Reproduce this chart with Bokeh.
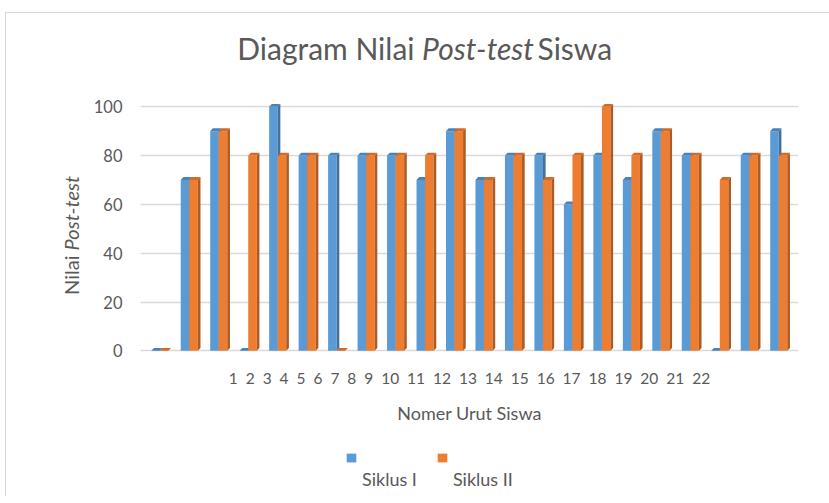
import numpy as np
from bokeh.plotting import figure
from bokeh.layouts import column, row
from bokeh.models import Range1d, LinearAxis, FixedTicker, Legend, LegendItem, Label
from bokeh.embed import file_html
from bokeh.resources import INLINE

# ---- data ----
students = ["1", "2", "3", "4", "5", "6", "7", "8", "9", "10", "11",
            "12", "13", "14", "15", "16", "17", "18", "19", "20", "21", "22"]
siklus_1 = [0, 70, 90, 0, 100, 80, 80, 80, 80, 70, 90, 70, 80, 80, 60, 80, 70, 90, 80, 0, 80, 90]
siklus_2 = [0, 70, 90, 80, 80, 80, 0, 80, 80, 80, 90, 70, 80, 70, 80, 100, 80, 90, 80, 70, 80, 80]
y_ticks = [0, 20, 40, 60, 80, 100]
series_names = ["Siklus I", "Siklus II"]
title_parts = ["Diagram Nilai", "Post-test", "Siswa"]
ylabel_parts = ["Nilai", "Post-test"]
xlabel = "Nomer Urut Siswa"

TXT = "#595959"
FONT = "Lato"
BLUE, ORANGE = "#5b9bd5", "#ed7d31"
BLUE_SIDE, ORANGE_SIDE = "#41719c", "#ae5a21"
BLUE_TOP, ORANGE_TOP = "#4a82b8", "#d06a26"

TOTAL_W = 823          # content width inside the chart border
TITLE_H = 76
MAIN_H = 355
LEG_H = 52
YLAB_W = 84


def blank(width, height):
    f = figure(width=width, height=height, output_backend="svg", toolbar_location=None,
               x_axis_location=None, y_axis_location=None,
               x_range=Range1d(0, 1), y_range=Range1d(0, 1),
               min_border=0)
    f.outline_line_color = None
    f.grid.grid_line_color = None
    return f


# ---- title (mixed italic) ----
tfig = blank(TOTAL_W, TITLE_H)
ty = 42
for txt, xpos, align, style in zip(title_parts, [408, 471.5, 531],
                                   ["right", "center", "left"],
                                   ["normal", "italic", "normal"]):
    tfig.add_layout(Label(x=xpos, y=ty, x_units="screen", y_units="screen",
                          text=txt, text_align=align, text_baseline="middle",
                          text_font=FONT, text_font_size="30px", text_font_style=style,
                          text_color=TXT))

# ---- y label (mixed italic, rotated) ----
yfig = blank(YLAB_W, MAIN_H)
yfig.add_layout(Label(x=64, y=99, x_units="screen", y_units="screen", angle=np.pi / 2,
                      text=ylabel_parts[0], text_align="right", text_baseline="middle",
                      text_font=FONT, text_font_size="20px", text_color=TXT))
yfig.add_layout(Label(x=64, y=104, x_units="screen", y_units="screen", angle=np.pi / 2,
                      text=ylabel_parts[1], text_align="left", text_baseline="middle",
                      text_font=FONT, text_font_size="20px", text_font_style="italic",
                      text_color=TXT))

# ---- main chart ----
X0, X1 = 0.345, 22.67
Y0, Y1 = -1.5, 103
p = figure(width=TOTAL_W - YLAB_W, height=MAIN_H,
           x_range=Range1d(X0, X1), y_range=Range1d(Y0, Y1),
           output_backend="svg", toolbar_location=None,
           min_border_left=50, min_border_right=31, min_border_top=10, min_border_bottom=90)
p.outline_line_color = None
p.xgrid.grid_line_color = None
p.ygrid.ticker = FixedTicker(ticks=y_ticks)
p.ygrid.grid_line_color = "#d9d9d9"
p.ygrid.grid_line_width = 1.3

ya = p.yaxis[0]
ya.ticker = FixedTicker(ticks=y_ticks)
ya.axis_line_color = None
ya.major_tick_line_color = None
ya.minor_tick_line_color = None
ya.major_tick_out = 0
ya.major_tick_in = 0
ya.major_label_standoff = 18
ya.major_label_text_font = FONT
ya.major_label_text_font_size = "16.5px"
ya.major_label_text_color = TXT

xa = p.xaxis[0]
xa.ticker = FixedTicker(ticks=[])
xa.axis_line_color = None
xa.major_tick_line_color = None
xa.minor_tick_line_color = None
xa.major_tick_out = 0
xa.major_tick_in = 0
xa.axis_label = " \u00a0".join(students)
xa.axis_label_text_font = FONT
xa.axis_label_text_font_size = "15.5px"
xa.axis_label_text_font_style = "normal"
xa.axis_label_text_color = TXT
xa.axis_label_standoff = 14

xa2 = LinearAxis(ticker=FixedTicker(ticks=[]), axis_line_color=None,
                 major_tick_line_color=None, minor_tick_line_color=None,
                 major_tick_out=0, major_tick_in=0,
                 axis_label=xlabel, axis_label_text_font=FONT,
                 axis_label_text_font_size="18px", axis_label_text_font_style="normal",
                 axis_label_text_color=TXT, axis_label_standoff=12)
p.add_layout(xa2, "below")

x = np.arange(1, len(students) + 1, dtype=float)
bw, dx, dy = 0.29, 0.09, 1.2
series = [
    (np.array(siklus_1, float), x - bw / 2, BLUE, BLUE_SIDE, BLUE_TOP),
    (np.array(siklus_2, float), x + bw / 2, ORANGE, ORANGE_SIDE, ORANGE_TOP),
]
for vals, xc, col, side_col, top_col in series:
    p.vbar(x=xc, top=vals, bottom=0, width=bw, fill_color=col, line_color=None)
    xl, xr = xc - bw / 2, xc + bw / 2
    p.patches([[a, a + dx, a + dx, a] for a in xr],
              [[0, dy, v + dy, v] for v in vals],
              fill_color=side_col, line_color=None)
    p.patches([[l, r_, r_ + dx, l + dx] for l, r_ in zip(xl, xr)],
              [[v, v, v + dy, v + dy] for v in vals],
              fill_color=top_col, line_color=None)

# ---- legend (own strip so it is not clipped) ----
lfig = blank(TOTAL_W, LEG_H)
# zero-size bars: they only supply the legend swatches
lr1 = lfig.vbar(x=[0.5], top=[0], bottom=[0], width=0, fill_color=BLUE, line_color=None)
lr2 = lfig.vbar(x=[0.5], top=[0], bottom=[0], width=0, fill_color=ORANGE, line_color=None)
# two leading empty lines put each name below its swatch, as in the original
legend = Legend(items=[LegendItem(label="\n\n" + series_names[0], renderers=[lr1]),
                       LegendItem(label="\n\n" + series_names[1], renderers=[lr2])],
                orientation="horizontal", location=(339, 6),
                glyph_width=12, glyph_height=11, label_height=20,
                label_standoff=5, spacing=19,
                label_text_font=FONT, label_text_font_size="18px", label_text_color=TXT,
                border_line_color=None, background_fill_alpha=0, padding=0, margin=0)
lfig.add_layout(legend)

layout = column(tfig, row(yfig, p), lfig, margin=(12, 0, 0, 5),
                styles={"border-top": "1px solid #d9d9d9", "border-left": "1px solid #d9d9d9"})

open("out.html", "w").write(file_html(layout, INLINE))
